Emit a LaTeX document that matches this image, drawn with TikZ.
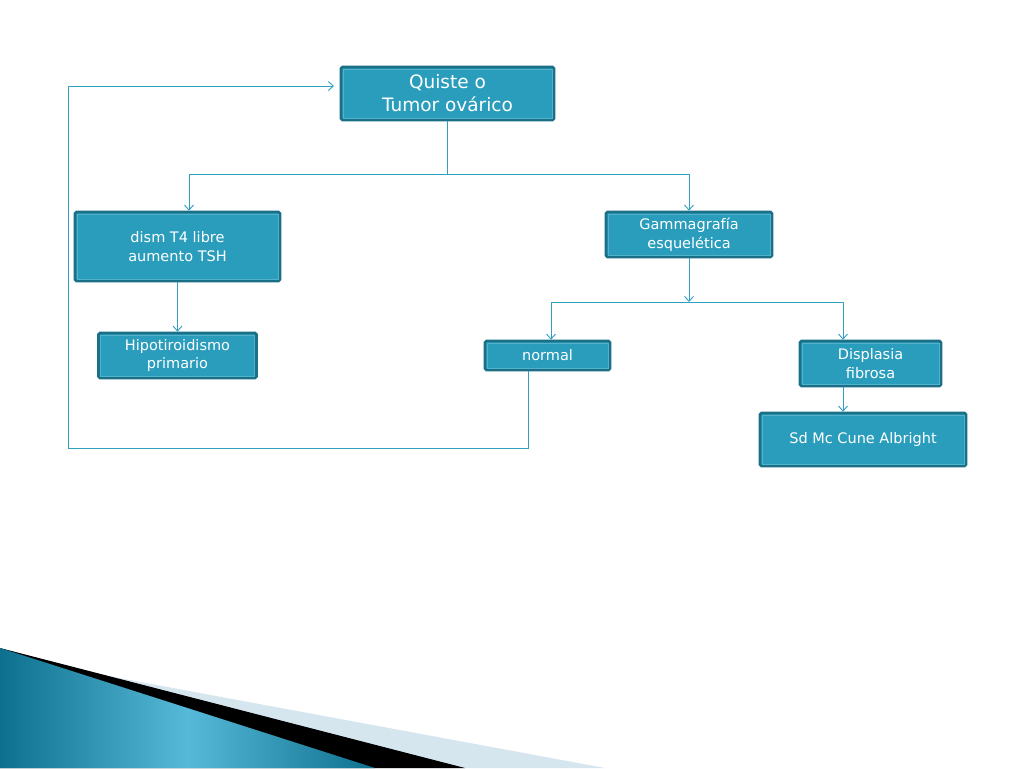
\documentclass[tikz,border=0pt]{standalone}
\usepackage{fontspec}
\setmainfont{DejaVu Sans}
\usetikzlibrary{arrows.meta}
\definecolor{boxfill}{RGB}{43,157,188}
\definecolor{boxdraw}{RGB}{27,112,135}
\definecolor{boxin}{RGB}{82,178,204}
\definecolor{linkc}{RGB}{48,160,190}
\definecolor{bandlight}{RGB}{214,230,239}
\definecolor{banddark}{RGB}{12,112,142}
\definecolor{bandmid}{RGB}{85,185,215}
\begin{document}
\begin{tikzpicture}[x=1pt,y=-1pt,
  fbox/.style={draw=boxdraw,fill=boxfill,line width=2.6pt,rounded corners=1.5pt,text=white,align=center,inner sep=0pt,font=\fontsize{14.5}{18.5}\selectfont},
  inline/.style={draw=boxin,line width=0.7pt},
  link/.style={draw=linkc,line width=0.9pt,-{Straight Barb[length=5pt,width=9pt]}}]
\path[use as bounding box,fill=white] (0,0) rectangle (1024,768);
\fill[bandlight] (0,656) -- (605,768) -- (0,768) -- cycle;
\fill[black] (0,648) -- (465,768) -- (0,768) -- cycle;
\shade[left color=banddark,right color=banddark,middle color=bandmid] (0,648) -- (375,768) -- (0,768) -- cycle;
\node[fbox,minimum width=213,minimum height=53,font=\fontsize{18.5}{23}\selectfont](NQ) at (447.5,93.5){Quiste o\\Tumor ovárico};
\node[fbox,minimum width=205,minimum height=69](NT) at (177.5,246.5){dism T4 libre\\aumento TSH};
\node[fbox,minimum width=158,minimum height=45](NH) at (177.5,355.5){Hipotiroidismo\\primario};
\node[fbox,minimum width=166,minimum height=45](NG) at (689,234.5){Gammagrafía\\esquelética};
\node[fbox,minimum width=125,minimum height=29](NN) at (547.5,355.5){normal};
\node[fbox,minimum width=141,minimum height=45](ND) at (870.5,363.5){Displasia\\fibrosa};
\node[fbox,minimum width=206,minimum height=53](NS) at (863,439.5){Sd Mc Cune Albright};
\foreach \n in {NQ,NT,NH,NG,NN,ND,NS}
  \draw[inline] ([shift={(3.4pt,-3.4pt)}]\n.north west) rectangle ([shift={(-3.4pt,3.4pt)}]\n.south east);
\coordinate (KQ) at (447.5,174);
\coordinate (KG) at (689,302);
\coordinate (KL) at (68,448);
\coordinate (KA) at (334,86);
\draw[link,-] (NQ) -- (KQ);
\draw[link] (KQ) -| ([xshift=11.5pt]NT.north);
\draw[link] (KQ) -| (NG);
\draw[link] (NT) -- (NH);
\draw[link] (NG) -- (KG);
\draw[link] (KG) -| ([xshift=3.5pt]NN.north);
\draw[link] (KG) -| ([xshift=-27.5pt]ND.north);
\draw[link] ([xshift=-27.5pt]ND.south) -- ([xshift=-20pt]NS.north);
\draw[link] ([xshift=-19.5pt]NN.south) |- (KL) |- (KA);
\end{tikzpicture}
\end{document}
